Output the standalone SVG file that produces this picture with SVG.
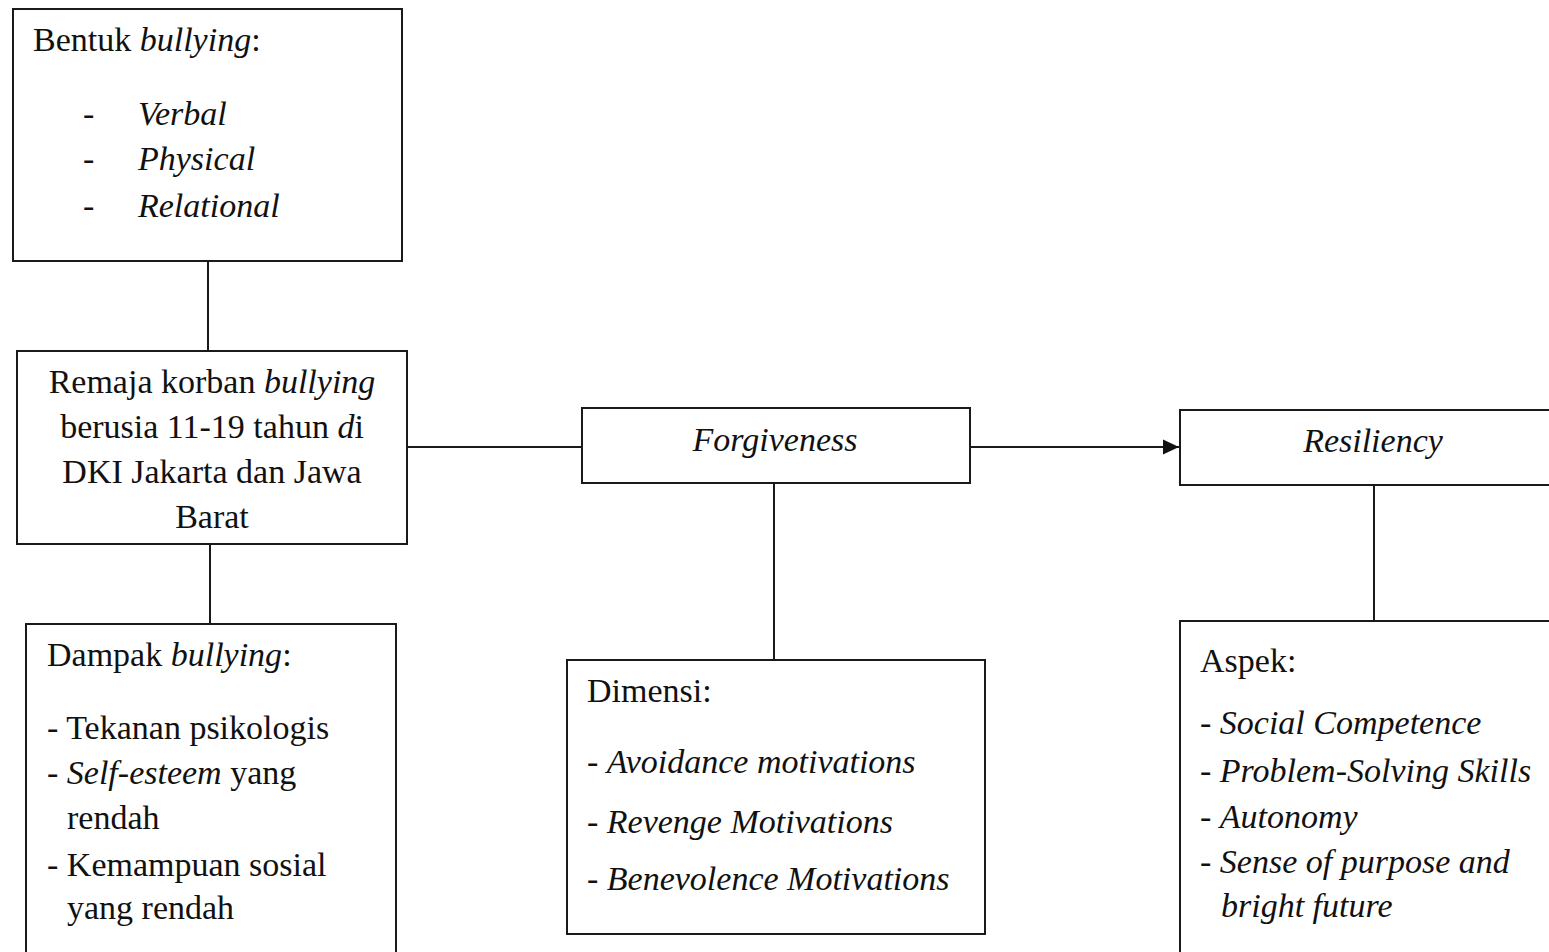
<svg xmlns="http://www.w3.org/2000/svg" width="1549" height="952" viewBox="0 0 1549 952">
<defs>
<style>
.box{fill:#fff;stroke:#1a1a1a;stroke-width:2}
.ln{stroke:#1a1a1a;stroke-width:2;fill:none}
text{font-family:"Liberation Serif","Times New Roman",serif;font-size:34px;fill:#111}
.i{font-style:italic}
.c{text-anchor:middle}
</style>
<marker id="ah" markerWidth="16" markerHeight="16" refX="16" refY="8" orient="auto" markerUnits="userSpaceOnUse">
<path d="M0,0.5 L16,8 L0,15.5 Z" fill="#111"/>
</marker>
</defs>
<rect width="1549" height="952" fill="#fff"/>
<g id="connectors">
<line class="ln" x1="208" y1="261" x2="208" y2="351"/>
<line class="ln" x1="407" y1="447" x2="582" y2="447"/>
<line class="ln" x1="971" y1="447" x2="1179" y2="447" marker-end="url(#ah)"/>
<line class="ln" x1="210" y1="544" x2="210" y2="624"/>
<line class="ln" x1="774" y1="483" x2="774" y2="660"/>
<line class="ln" x1="1374" y1="485" x2="1374" y2="621"/>
</g>
<g id="bentuk">
<rect class="box" x="13" y="9" width="389" height="252"/>
<text x="33" y="51">Bentuk <tspan class="i">bullying</tspan>:</text>
<text x="83" y="125">-</text><text class="i" x="138" y="125">Verbal</text>
<text x="83" y="170">-</text><text class="i" x="138" y="170">Physical</text>
<text x="83" y="217">-</text><text class="i" x="138" y="217">Relational</text>
</g>
<g id="remaja">
<rect class="box" x="17" y="351" width="390" height="193"/>
<text class="c" x="212" y="393">Remaja korban <tspan class="i">bullying</tspan></text>
<text class="c" x="212" y="438">berusia 11-19 tahun <tspan class="i">d</tspan>i</text>
<text class="c" x="212" y="483">DKI Jakarta dan Jawa</text>
<text class="c" x="212" y="528">Barat</text>
</g>
<g id="forgiveness">
<rect class="box" x="582" y="408" width="388" height="75"/>
<text class="c i" x="775" y="451">Forgiveness</text>
</g>
<g id="resiliency">
<rect class="box" x="1180" y="410" width="380" height="75"/>
<text class="c i" x="1373" y="452">Resiliency</text>
</g>
<g id="dampak">
<rect class="box" x="26" y="624" width="370" height="340"/>
<text x="47" y="666">Dampak <tspan class="i">bullying</tspan>:</text>
<text x="47" y="739">- Tekanan psikologis</text>
<text x="47" y="784">- <tspan class="i">Self-esteem</tspan> yang</text>
<text x="67" y="829">rendah</text>
<text x="47" y="876">- Kemampuan sosial</text>
<text x="67" y="919">yang rendah</text>
</g>
<g id="dimensi">
<rect class="box" x="567" y="660" width="418" height="274"/>
<text x="587" y="702">Dimensi:</text>
<text x="587" y="773">- <tspan class="i">Avoidance motivations</tspan></text>
<text x="587" y="833">- <tspan class="i">Revenge Motivations</tspan></text>
<text x="587" y="890">- <tspan class="i">Benevolence Motivations</tspan></text>
</g>
<g id="aspek">
<rect class="box" x="1180" y="621" width="380" height="343"/>
<text x="1200" y="672">Aspek:</text>
<text x="1200" y="734">- <tspan class="i">Social Competence</tspan></text>
<text x="1200" y="782">- <tspan class="i">Problem-Solving Skills</tspan></text>
<text x="1200" y="828">- <tspan class="i">Autonomy</tspan></text>
<text x="1200" y="873">- <tspan class="i">Sense of purpose and</tspan></text>
<text x="1221" y="917" class="i">bright future</text>
</g>
</svg>
